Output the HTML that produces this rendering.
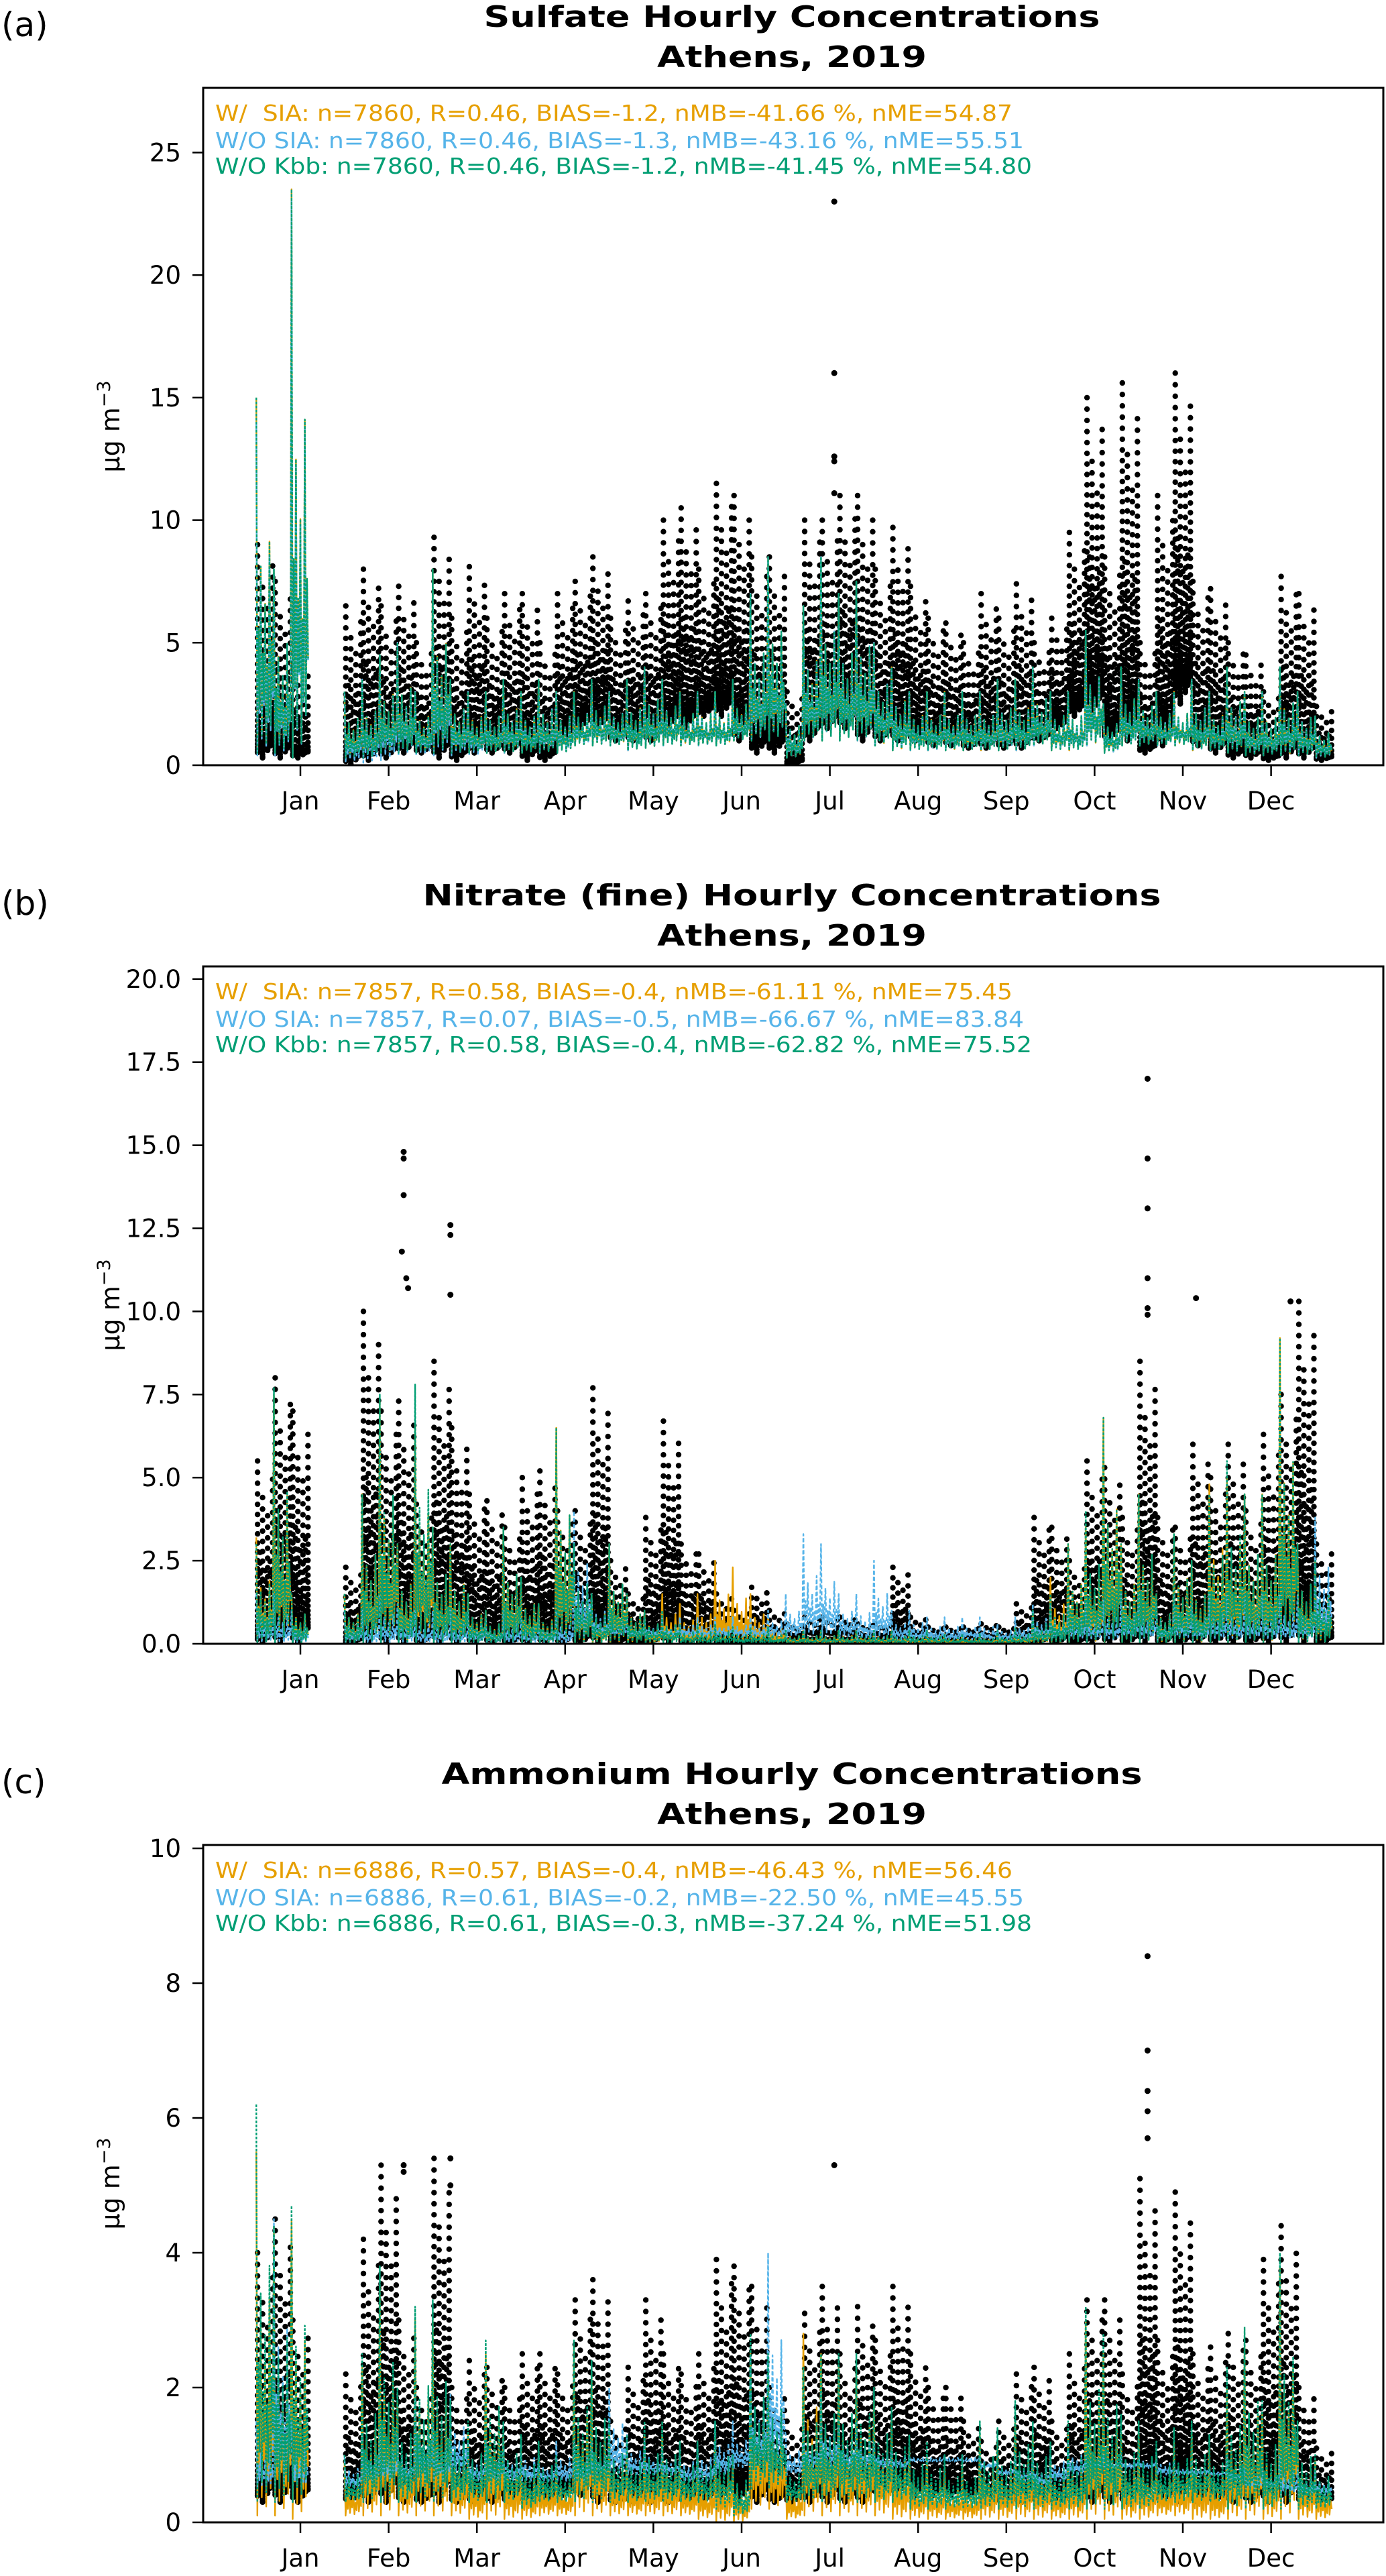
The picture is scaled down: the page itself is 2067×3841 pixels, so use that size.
<!DOCTYPE html>
<html><head><meta charset="utf-8"><style>
html,body{margin:0;padding:0;background:#fff;}
svg{display:block;}
text{font-family:"DejaVu Sans","Liberation Sans",sans-serif;}
.pre{white-space:pre;}
</style></head><body>
<svg id="fig" width="2067" height="3841" viewBox="0 0 2067 3841" xmlns="http://www.w3.org/2000/svg"></svg>
<script>
// ---------- shared ----------
const months = ["Jan","Feb","Mar","Apr","May","Jun","Jul","Aug","Sep","Oct","Nov","Dec"];
// bin starts (month offset from Jan tick), bin width 0.2 month
const binStart = [-0.5,-0.3,-0.1,0.1,0.3,0.5,0.7,0.9,1.1,1.3,1.5,1.7,1.9,2.1,2.3,2.5,2.7,2.9,3.1,3.3,3.5,3.7,3.9,4.1,4.3,4.5,4.7,4.9,5.1,5.3,5.5,5.7,5.9,6.1,6.3,6.5,6.7,6.9,7.1,7.3,7.5,7.7,7.9,8.1,8.3,8.5,8.7,8.9,9.1,9.3,9.5,9.7,9.9,10.1,10.3,10.5,10.7,10.9,11.1,11.3,11.5];

// ---------- panel (a) sulfate ----------
const aYTicks = [0,5,10,15,20,25];
const aObsHi = [9,7.5,4,null,null,6.5,8,6.5,7.3,5,9.3,6,8.1,6,7,7,5,7,7.5,8.5,6,6.7,7,10,10.5,8,11.5,11,8.5,8.5,3,10,10,11,11,8,9.7,7.3,6,5.8,5,7,6,7.4,5,6,9.5,15,8.5,15.6,5,11,16,7.5,7.2,5,4.5,3,7.7,7,2.4];
const aObsLo = [0.3,0.3,0.3,null,null,0,0.2,0.3,0.5,0.5,0.3,0.2,0.5,0.5,0.5,0.2,0.2,1,1.5,1.5,1,1,1,1.5,1.5,2,2,1,0.5,0.5,0,1,1.5,1.5,1,1,1,1,0.8,0.8,0.7,0.7,0.7,0.7,1,1.5,2,2,1,1,0.5,0.8,2.5,0.8,0.5,0.3,0.3,0.2,0.3,0.3,0.2];
const aGrnHi = [15,8,23.5,null,null,3,3.5,4.5,5,3,8,3.5,3,3,3.5,3,3.5,3,3,3.5,3,3.5,4,3.5,3,3,3,3.5,7,8.5,2.5,6.5,8.5,7,7.5,5,4,3,3,3,3,3,3.5,3.5,4,3,3,5.5,2.5,4,3.5,3,3,3.5,3,4,3,3,4,3,2];
const aGrnLo = [0.5,0.5,0.3,null,null,0.3,0.3,0.5,0.5,0.5,0.5,0.5,0.5,0.5,0.5,0.5,0.5,0.5,0.8,0.8,0.8,0.6,0.7,0.8,0.8,0.8,0.8,1,1,1,0.3,1,1,1,1,0.8,0.6,0.6,0.6,0.6,0.6,0.6,0.6,0.6,0.8,0.6,0.6,0.8,0.5,0.8,0.8,0.8,0.8,0.6,0.6,0.5,0.4,0.4,0.4,0.4,0.3];
const aBluHi = [14,8,23,null,null,3,3.5,4.5,5,3,7.5,3.5,3,3,3.5,3,3.5,3,3,3.5,3,3.5,4,3.5,3,3,3,3.5,7,8.5,2.5,6.5,8.5,7,7.5,5,4,3,3,3,3,3,3.5,3.5,4,3,3,5.5,2.5,4,3.5,3,3,3.5,3,4,3,3,4,3,2];
const aBluLo = [0.4,0.4,0.3,null,null,0.1,0.1,0.2,0.4,0.4,0.4,0.4,0.4,0.5,0.5,0.5,0.5,0.5,0.8,0.8,0.8,0.6,0.7,0.8,0.8,0.8,0.8,1,1,1,0.3,1,1,1,1,0.8,0.6,0.6,0.6,0.6,0.6,0.6,0.6,0.6,0.8,0.6,0.6,0.8,0.5,0.8,0.8,0.8,0.8,0.6,0.6,0.5,0.4,0.4,0.4,0.4,0.3];
const aOrgHi = aGrnHi;
const aOrgLo = aGrnLo;
const aOutM = [6.05,6.05,6.05,6.05,6.05];
const aOutV = [23,16,12.6,12.4,11.1];
const aStats = ["W/  SIA: n=7860, R=0.46, BIAS=-1.2, nMB=-41.66 %, nME=54.87",
                "W/O SIA: n=7860, R=0.46, BIAS=-1.3, nMB=-43.16 %, nME=55.51",
                "W/O Kbb: n=7860, R=0.46, BIAS=-1.2, nMB=-41.45 %, nME=54.80"];

// ---------- panel (b) nitrate ----------
const bYTicks = [0,2.5,5,7.5,10,12.5,15,17.5,20];
const bObsHi = [5.5,8,7,null,null,2.3,10,7,7.3,4.2,8.5,6.5,4.5,4.3,3.5,5,5.2,4,4,7.7,2.5,1.5,3.8,6.7,3,2.7,1.5,1,1.7,1,0.6,0.8,0.8,0.8,0.6,0.6,2.3,0.8,0.5,0.5,0.5,0.6,0.5,1.2,3.8,3.5,2.5,5.5,5.3,3.8,8.5,3.8,3.5,6,5,6,4,6.3,7.5,10.3,3];
const bObsLo = [0,0,0,null,null,0,0,0,0,0,0,0,0,0,0,0,0,0,0,0,0,0,0,0,0,0,0,0,0,0,0,0,0,0,0,0,0,0,0,0,0,0,0,0,0,0,0,0,0,0,0,0,0,0,0,0,0,0,0,0,0];
const bGrnHi = [3,7.7,1.5,null,null,1.5,4.5,7.5,3,7.8,3.5,3,1.5,1,3.5,2,1.2,6.5,3,1.5,3,1.5,1,1,0.6,0.6,0.6,0.5,0.5,0.5,0.4,0.4,0.4,0.4,0.4,0.4,0.4,0.4,0.4,0.3,0.3,0.3,0.4,0.5,1,1.5,3,4,6.8,3,4.5,1.5,3.3,2.5,4.5,5.5,4.5,4.5,9.2,3,2.5];
const bGrnLo = [0,0,0,null,null,0,0,0,0,0,0,0,0,0,0,0,0,0,0,0,0,0,0,0,0,0,0,0,0,0,0,0,0,0,0,0,0,0,0,0,0,0,0,0,0,0,0,0,0,0,0,0,0,0,0,0,0,0,0,0,0];
const bOrgHi = [3.2,7.5,1.5,null,null,1.5,4.5,7.3,3,6.6,3.5,3,1.5,1,3.5,2,1.2,6.5,3,1.5,3,1.5,1,1.5,1.2,1.5,2.5,2.3,1.5,0.8,0.4,0.4,0.4,0.4,0.4,0.4,0.4,0.4,0.4,0.3,0.3,0.3,0.4,0.5,1,2,3,3.5,6.8,3,4.5,1.5,3.3,2.5,4.8,5,4.5,4.5,9.2,3,2.5];
const bOrgLo = bGrnLo;
const bBluHi = [1.5,1.5,1,null,null,1,1,1.5,1.2,1,1,1,1,0.8,1,0.8,0.8,1,4,1.5,1,0.8,0.8,0.8,0.8,0.8,0.8,0.8,0.8,1,1.5,3.3,3,1.5,1.5,2.5,1,1,0.8,0.8,0.8,0.8,0.6,0.8,1.2,1.2,1.2,1.3,1.3,1.5,1.5,1.2,1.5,1.2,1.5,1.5,1.5,1.5,1.5,1.5,3.8];
const bBluLo = [0,0,0,null,null,0,0,0,0,0,0,0,0,0,0,0,0,0,0.1,0.2,0.2,0.2,0.2,0.2,0.2,0.2,0.2,0.2,0.2,0.2,0.2,0.2,0.2,0.2,0.1,0.1,0.1,0.1,0.1,0.1,0.1,0.1,0.1,0.1,0.1,0.1,0.1,0.1,0.1,0.1,0.1,0.1,0.1,0.1,0.1,0.1,0.1,0.1,0.1,0.1,0.1];
const bOutM = [1.17,1.17,1.17,1.15,1.2,1.22,1.7,1.7,1.7,9.6,9.6,9.6,9.6,9.6,9.6,10.15,11.22];
const bOutV = [14.8,14.6,13.5,11.8,11.0,10.7,12.6,12.3,10.5,17,14.6,13.1,11,10.1,9.9,10.4,10.3];
const bStats = ["W/  SIA: n=7857, R=0.58, BIAS=-0.4, nMB=-61.11 %, nME=75.45",
                "W/O SIA: n=7857, R=0.07, BIAS=-0.5, nMB=-66.67 %, nME=83.84",
                "W/O Kbb: n=7857, R=0.58, BIAS=-0.4, nMB=-62.82 %, nME=75.52"];

// ---------- panel (c) ammonium ----------
const cYTicks = [0,2,4,6,8,10];
const cObsHi = [4,4.5,3,null,null,2.2,4.2,5.3,3,2,5.4,2,2.4,2.3,2,2.5,2.5,2.2,3.3,3.6,1.5,2.3,3.3,2.5,2.2,2.5,3.9,3.8,3.5,2,1.5,3.1,3.5,2.5,3.2,2.7,3.5,2.5,2,2,1.5,1.2,1.5,2.2,2.3,1.5,2.5,3.3,3.3,2.2,5.1,2.7,4.9,2.5,2.6,2.8,2.7,3.9,4.4,2,1.1];
const cObsLo = [0.3,0.3,0.3,null,null,0.3,0.3,0.3,0.3,0.3,0.3,0.3,0.3,0.3,0.3,0.3,0.3,0.4,0.4,0.3,0.3,0.3,0.3,0.3,0.3,0.3,0.3,0.3,0.3,0.3,0.3,0.3,0.3,0.3,0.3,0.4,0.4,0.4,0.4,0.4,0.4,0.3,0.3,0.3,0.3,0.3,0.3,0.3,0.3,0.3,0.3,0.3,0.3,0.3,0.3,0.3,0.3,0.3,0.3,0.3,0.3];
const cGrnHi = [6.2,4.4,4.7,null,null,1,2.5,3.8,2,3.2,3.3,1.8,1.5,2.7,1.5,1.3,1.2,1,2.7,2.4,1.5,1.3,1.5,1.5,1.2,1.2,1.5,1,2.8,2.5,1,2.3,2.5,2.5,2.5,2,1.7,1.3,1.2,1,1,1.5,1.4,1.8,1.5,1.2,1.5,3.2,2.8,1.6,1.5,1.2,1.4,1.5,1.3,2.3,2.9,1.8,4,1.5,1];
const cGrnLo = [0.3,0.3,0.3,null,null,0.3,0.3,0.3,0.3,0.3,0.3,0.3,0.3,0.3,0.3,0.2,0.3,0.3,0.3,0.3,0.3,0.3,0.3,0.3,0.3,0.3,0.2,0.1,0.5,0.5,0.3,0.3,0.3,0.3,0.3,0.3,0.3,0.2,0.2,0.2,0.2,0.2,0.2,0.2,0.2,0.2,0.2,0.2,0.2,0.2,0.2,0.3,0.3,0.3,0.3,0.2,0.2,0.2,0.2,0.2,0.2];
const cOrgHi = [5.5,4.4,4.5,null,null,0.9,2.3,3.5,1.8,3,3,1.6,1.3,2.5,1.3,1.1,1,0.9,2.6,2.2,1.3,1.1,1.3,1.3,1,1,1.3,0.9,2.5,2.2,0.8,2.8,2.5,2.3,2.3,1.8,1.5,1.1,1,0.8,0.8,1.3,1.2,1.5,1.3,1,1.3,3,2.5,1.3,1.3,1,1.2,1.3,1.1,2,2.6,1.6,3.8,1.3,0.9];
const cOrgLo = [0.1,0.1,0.05,null,null,0.1,0.1,0.1,0.1,0.1,0.1,0.1,0.05,0.05,0.05,0.05,0.1,0.1,0.1,0.1,0.1,0.1,0.1,0.1,0.1,0.05,0,0,0.2,0.2,0.05,0.1,0.1,0.1,0.1,0.1,0.05,0.05,0.05,0.05,0.05,0.05,0.05,0.05,0.05,0.05,0.05,0.05,0.05,0.05,0.05,0.1,0.1,0.05,0.05,0.05,0.05,0.05,0.05,0.05,0.05];
const cBluHi = [1.5,4.5,1.5,null,null,1,1.3,1.4,1.3,1.9,1.5,1.9,1.2,1.2,1.2,1.2,1,1.2,1.2,1.2,2,1.3,1.2,1.1,1.1,1.2,1.5,1.5,2.5,4,1.3,1.5,1.9,1.5,1.5,1.2,1.1,1,1,1,1,1,0.9,1,1.1,1.1,1.2,1,1,1,1,1,0.9,0.9,0.8,1,0.8,0.8,1,0.8,0.8];
const cBluLo = [0.5,0.5,0.5,null,null,0.5,0.6,0.6,0.6,0.6,0.6,0.7,0.6,0.6,0.6,0.6,0.6,0.6,0.6,0.7,0.7,0.7,0.7,0.7,0.6,0.6,0.7,0.8,0.8,0.8,0.7,0.8,0.8,0.8,0.8,0.8,0.8,0.9,0.9,0.9,0.9,0.8,0.7,0.6,0.5,0.6,0.7,0.8,0.8,0.8,0.8,0.7,0.7,0.7,0.7,0.6,0.5,0.5,0.4,0.4,0.4];
const cOutM = [9.6,9.6,9.6,9.6,9.6,6.05,1.7,1.7,1.17,1.17];
const cOutV = [8.4,7.0,6.4,6.1,5.7,5.3,5.4,5.0,5.3,5.2];
const cStats = ["W/  SIA: n=6886, R=0.57, BIAS=-0.4, nMB=-46.43 %, nME=56.46",
                "W/O SIA: n=6886, R=0.61, BIAS=-0.2, nMB=-22.50 %, nME=45.55",
                "W/O Kbb: n=6886, R=0.61, BIAS=-0.3, nMB=-37.24 %, nME=51.98"];

// ---------- drawing ----------
const NS = "http://www.w3.org/2000/svg";
const svg = document.getElementById("fig");
const COLORS = {org:"#E69F00", blu:"#56B4E9", grn:"#009E73"};
const L = 303, R = 2063, JAN = 448, MW = 131.6, BW = 0.2;
function xs(m){ return JAN + MW*m; }

function el(tag, attrs, parent){
  const e = document.createElementNS(NS, tag);
  for (const k in attrs) e.setAttribute(k, attrs[k]);
  (parent||svg).appendChild(e);
  return e;
}

function drawPanel(cfg){
  const P = cfg.off, top = 131+P, bot = 1141+P;
  const ys = v => bot - (v/cfg.ymax)*(bot-top);
  const g = el("g", {});
  
  

  const lt = el("text", {x:2, y:54+P, "font-size":50, fill:"#000"}, g);
  lt.textContent = cfg.letter;
  
  

  const t1 = el("text", {x:1181, y:40+P, "font-size":44, "font-weight":"bold", "text-anchor":"middle", textLength:cfg.titleW, lengthAdjust:"spacingAndGlyphs"}, g);
  t1.textContent = cfg.title;
  
  
  const t2 = el("text", {x:1181, y:100+P, "font-size":44, "font-weight":"bold", "text-anchor":"middle", textLength:402, lengthAdjust:"spacingAndGlyphs"}, g);
  t2.textContent = "Athens, 2019";
  
  

  const cid = "clip"+cfg.letter.replace(/\W/g,"");
  const cp = el("clipPath", {id:cid}, g);
  el("rect", {x:L, y:top, width:R-L, height:bot-top}, cp);
  const plot = el("g", {"clip-path":"url(#"+cid+")"}, g);
  
  

  // observations: dot columns (cloud)
  const obsG = el("g", {fill:"#000"}, plot);
  
  
  const colFrac = [1,0.5,0.8,0.4,0.7,0.45,0.9];
  const colStart = [0.05,0.2,0.0,0.3,0.1,0.25,0.15];
  for (let i=0;i<binStart.length;i++){
    const hi = cfg.obsHi[i], lo = cfg.obsLo[i];
    if (hi===null || hi===undefined) continue;
    for (let k=0;k<7;k++){
      const x = xs(binStart[i] + BW*(k+0.5)/7);
      const h = lo + (hi-lo)*colFrac[k];
      const l0 = lo + (h-lo)*colStart[k]*0.5;
      const span = ys(l0)-ys(h);
      const n = Math.max(2, Math.ceil(span/11));
      for (let j=0;j<=n;j++){
        const t = j/n;
        const v = l0 + (h-l0)*Math.pow(t,1.6);
        el("circle", {cx:x.toFixed(1), cy:ys(v).toFixed(1), r:4.2}, obsG);
      }
    }
  }
  for (let i=0;i<cfg.outM.length;i++){
    const c = el("circle", {cx:xs(cfg.outM[i]).toFixed(1), cy:ys(cfg.outV[i]).toFixed(1), r:4.5}, obsG);
    
    
  }

  // model series: zigzag lines
  const zigHi = [1,0.5,0.75,0.4,0.6,0.35,0.85,0.45];
  const zigLo = [0,0.25,0.1,0.3,0.05,0.2,0.15,0.35];
  function series(hiA, loA, color, name, dash){
    let d = "", pen = false;
    for (let i=0;i<binStart.length;i++){
      const hi = hiA[i], lo = loA[i];
      if (hi===null || hi===undefined){ pen=false; continue; }
      for (let j=0;j<16;j++){
        const x = xs(binStart[i] + BW*j/16);
        const q = Math.floor(j/2)%8;
        const v = (j%2===0) ? lo + (hi-lo)*zigHi[q]*(j===0?1:0.7) : lo + (hi-lo)*zigLo[q]*0.5;
        d += (pen ? "L" : "M") + x.toFixed(1) + "," + ys(v).toFixed(1);
        pen = true;
      }
    }
    const p = el("path", {d:d, fill:"none", stroke:color, "stroke-width":2.4, "stroke-linejoin":"round"}, plot);
    if (dash) p.setAttribute("stroke-dasharray", dash);
    
    
  }
  series(cfg.orgHi, cfg.orgLo, COLORS.org, 'series-w-sia', null);
  series(cfg.bluHi, cfg.bluLo, COLORS.blu, 'series-wo-sia', "6,3");
  series(cfg.grnHi, cfg.grnLo, COLORS.grn, 'series-wo-kbb', "4,2");

  const fr = el("rect", {x:L, y:top, width:R-L, height:bot-top, fill:"none", stroke:"#000", "stroke-width":3}, g);
  
  

  for (const v of cfg.yticks){
    const y = ys(v);
    el("line", {x1:L-16, x2:L, y1:y, y2:y, stroke:"#000", "stroke-width":2.5}, g);
    const t = el("text", {x:270, y:y+13, "font-size":37, "text-anchor":"end"}, g);
    t.textContent = cfg.fmt(v);
    
    
  }
  for (let i=0;i<months.length;i++){
    const x = xs(i);
    el("line", {x1:x, x2:x, y1:bot, y2:bot+16, stroke:"#000", "stroke-width":2.5}, g);
    const t = el("text", {x:x, y:bot+66, "font-size":37, "text-anchor":"middle"}, g);
    t.textContent = months[i];
    
    
  }
  const yl = el("text", {x:0, y:0, "font-size":38, "text-anchor":"middle", transform:"translate(178,"+((top+bot)/2)+") rotate(-90)"}, g);
  yl.innerHTML = 'μg m<tspan dy="-14" font-size="27">−3</tspan>';
  
  

  const sc = [COLORS.org, COLORS.blu, COLORS.grn];
  const sw = [1189,1206,1218];
  const sy = [180,221,259];
  for (let i=0;i<3;i++){
    const t = el("text", {x:321, y:sy[i]+P, "font-size":33, fill:sc[i], textLength:sw[i], lengthAdjust:"spacingAndGlyphs", "class":"pre"}, g);
    t.textContent = cfg.stats[i];
    
    
  }
}

drawPanel({name:"sulfate-panel", letter:"(a)", off:0, ymax:27.64, title:"Sulfate Hourly Concentrations", titleW:919,
  yticks:aYTicks, fmt:v=>String(v), obsHi:aObsHi, obsLo:aObsLo, grnHi:aGrnHi, grnLo:aGrnLo, bluHi:aBluHi, bluLo:aBluLo,
  orgHi:aOrgHi, orgLo:aOrgLo, outM:aOutM, outV:aOutV, stats:aStats});
drawPanel({name:"nitrate-panel", letter:"(b)", off:1310, ymax:20.38, title:"Nitrate (fine) Hourly Concentrations", titleW:1101,
  yticks:bYTicks, fmt:v=>v.toFixed(1), obsHi:bObsHi, obsLo:bObsLo, grnHi:bGrnHi, grnLo:bGrnLo, bluHi:bBluHi, bluLo:bBluLo,
  orgHi:bOrgHi, orgLo:bOrgLo, outM:bOutM, outV:bOutV, stats:bStats});
drawPanel({name:"ammonium-panel", letter:"(c)", off:2620, ymax:10.05, title:"Ammonium Hourly Concentrations", titleW:1045,
  yticks:cYTicks, fmt:v=>String(v), obsHi:cObsHi, obsLo:cObsLo, grnHi:cGrnHi, grnLo:cGrnLo, bluHi:cBluHi, bluLo:cBluLo,
  orgHi:cOrgHi, orgLo:cOrgLo, outM:cOutM, outV:cOutV, stats:cStats});
</script>
</body></html>
